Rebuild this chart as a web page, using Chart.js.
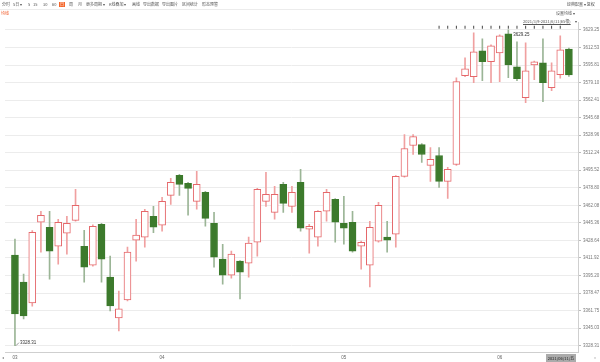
<!DOCTYPE html>
<html>
<head>
<meta charset="utf-8">
<script src="https://cdn.jsdelivr.net/npm/chart.js@4.4.1/dist/chart.umd.min.js"></script>
<style>
  body { margin: 0; background: #fff; font-family: "Noto Sans CJK SC", sans-serif; }
  #wrap { position: relative; width: 600px; height: 362px; overflow: hidden; }
  #wrap canvas { position: absolute; left: 0; top: 0; }
  .t { position: absolute; font-size: 4px; line-height: 5px; color: #555; white-space: nowrap; }
  .on { background: #f4662b; color: #fff; padding: 0 1px; }
  .sep { position: absolute; left: 0; top: 9px; width: 600px; height: 1px; background: #ececec; }
</style>
</head>
<body>
<div id="wrap">
  <canvas id="kline"></canvas>
  <div class="sep"></div>
  <span class="t" style="left:2px;top:2px">分时</span>
  <span class="t" style="left:13px;top:2px">5日 ▾</span>
  <span class="t" style="left:28px;top:2px">5</span>
  <span class="t" style="left:33px;top:2px">15</span>
  <span class="t" style="left:43px;top:2px">30</span>
  <span class="t" style="left:52px;top:2px">60</span>
  <span class="t on" style="left:59px;top:2px">日</span>
  <span class="t" style="left:69px;top:2px">周</span>
  <span class="t" style="left:78px;top:2px">月</span>
  <span class="t" style="left:86px;top:2px">更多周期 ▾</span>
  <span class="t" style="left:109px;top:2px">K线叠加 ▾</span>
  <span class="t" style="left:132px;top:2px">画线</span>
  <span class="t" style="left:143px;top:2px">导出数据</span>
  <span class="t" style="left:162px;top:2px">导出图片</span>
  <span class="t" style="left:182px;top:2px">区间统计</span>
  <span class="t" style="left:202px;top:2px">形态预警</span>
  <span class="t" style="left:567px;top:2px">经典配置 ▾ 复权</span>
  <span class="t" style="left:1px;top:11px;color:#f05a28">均线</span>
  <span class="t" style="left:556px;top:11px">设置均线 ▾</span>
  <span class="t" style="left:523px;top:19px;text-decoration:underline">2021/3/9-2021/6/11(65根)</span>
  <span class="t" style="left:575px;top:19px">▾</span>
  <span class="t" style="left:2px;top:355px;color:#888">◂</span>
  <span class="t" style="left:594px;top:355px;color:#888">»</span>
  <span class="t" style="left:546px;top:354px;width:30px;height:8px;line-height:8px;text-align:center;background:#ababab;color:#222">2021/06/11/五</span>
</div>
<script>
// 上证指数 日K 2021/3/9 - 2021/6/11
const dates = [
  '2021/03/09','2021/03/10','2021/03/11','2021/03/12','2021/03/15','2021/03/16','2021/03/17','2021/03/18','2021/03/19',
  '2021/03/22','2021/03/23','2021/03/24','2021/03/25','2021/03/26','2021/03/29','2021/03/30','2021/03/31',
  '2021/04/01','2021/04/02','2021/04/06','2021/04/07','2021/04/08','2021/04/09','2021/04/12','2021/04/13','2021/04/14',
  '2021/04/15','2021/04/16','2021/04/19','2021/04/20','2021/04/21','2021/04/22','2021/04/23','2021/04/26','2021/04/27',
  '2021/04/28','2021/04/29','2021/04/30',
  '2021/05/06','2021/05/07','2021/05/10','2021/05/11','2021/05/12','2021/05/13','2021/05/14','2021/05/17','2021/05/18',
  '2021/05/19','2021/05/20','2021/05/21','2021/05/24','2021/05/25','2021/05/26','2021/05/27','2021/05/28','2021/05/31',
  '2021/06/01','2021/06/02','2021/06/03','2021/06/04','2021/06/07','2021/06/08','2021/06/09','2021/06/10','2021/06/11'
];
const open = [
  3414.6, 3388.9, 3369.0, 3445.9, 3441.2, 3423.1, 3435.5, 3447.8, 3423.1, 3405.1,
  3444.0, 3393.7, 3354.7, 3371.8, 3428.8, 3431.7, 3451.6, 3443.1, 3471.6, 3490.6,
  3483.0, 3465.9, 3474.4, 3445.0, 3410.8, 3395.6, 3408.9, 3407.0, 3426.9, 3465.9,
  3455.4, 3482.0, 3461.1, 3483.9, 3439.3, 3431.7, 3456.4, 3467.8, 3445.0, 3445.9,
  3423.1, 3405.1, 3427.9, 3431.7, 3434.5, 3489.6, 3519.1, 3520.0, 3500.1, 3509.6,
  3484.9, 3501.0, 3585.6, 3584.6, 3609.3, 3598.9, 3607.4, 3625.5, 3594.1, 3564.7,
  3596.0, 3597.9, 3574.2, 3586.5, 3611.1
];
const high = [
  3429.8, 3396.5, 3438.0, 3456.4, 3456.4, 3448.8, 3451.6, 3477.3, 3438.3, 3443.5,
  3445.0, 3413.6, 3380.4, 3422.2, 3448.8, 3458.3, 3461.0, 3469.7, 3487.7, 3491.5,
  3483.9, 3494.4, 3475.4, 3455.4, 3425.0, 3418.4, 3409.5, 3431.7, 3478.2, 3493.4,
  3480.1, 3483.9, 3480.1, 3496.3, 3444.0, 3457.0, 3477.3, 3468.5, 3470.6, 3456.4,
  3427.9, 3446.9, 3464.9, 3446.9, 3490.5, 3529.5, 3529.5, 3521.0, 3517.2, 3517.2,
  3498.2, 3583.7, 3602.7, 3626.4, 3620.7, 3615.0, 3624.5, 3629.25, 3617.9, 3616.9,
  3599.5, 3620.7, 3597.9, 3623.6, 3612.0
];
const low = [
  3328.31, 3353.8, 3366.0, 3417.4, 3391.8, 3406.0, 3415.5, 3446.9, 3388.9, 3404.0,
  3388.9, 3361.4, 3342.4, 3371.0, 3408.9, 3422.2, 3436.0, 3437.4, 3463.0, 3471.6,
  3452.6, 3458.3, 3442.1, 3403.2, 3387.0, 3392.7, 3372.8, 3393.7, 3413.6, 3461.1,
  3448.8, 3455.4, 3455.4, 3437.4, 3416.5, 3423.1, 3446.9, 3426.9, 3425.0, 3417.4,
  3401.3, 3384.2, 3427.0, 3417.4, 3422.2, 3489.0, 3510.5, 3502.9, 3484.9, 3479.2,
  3468.7, 3500.0, 3584.6, 3578.9, 3580.8, 3578.9, 3579.9, 3583.7, 3580.8, 3559.9,
  3581.8, 3560.9, 3571.3, 3583.2, 3585.0
];
const close = [
  3358.5, 3356.6, 3436.4, 3452.6, 3418.4, 3445.9, 3445.0, 3462.0, 3403.2, 3442.1,
  3410.8, 3366.1, 3363.3, 3417.4, 3433.6, 3456.4, 3441.2, 3465.9, 3483.9, 3482.0,
  3478.2, 3482.0, 3449.7, 3412.7, 3395.6, 3415.5, 3398.4, 3426.0, 3477.3, 3472.5,
  3472.5, 3464.0, 3474.4, 3440.2, 3442.1, 3456.4, 3474.4, 3445.9, 3440.2, 3418.4,
  3426.9, 3441.2, 3462.0, 3428.8, 3489.6, 3516.2, 3527.6, 3510.5, 3505.8, 3484.9,
  3496.3, 3579.9, 3592.2, 3608.4, 3598.9, 3614.1, 3623.6, 3596.0, 3582.7, 3590.3,
  3598.9, 3578.9, 3590.3, 3610.3, 3586.3
];
// y axis tick labels (right side), bottom to top
const yTicks = [
  3328.31, 3345.03, 3361.75, 3378.47, 3395.20, 3411.92, 3428.64, 3445.36, 3462.08, 3478.80,
  3495.52, 3512.24, 3528.96, 3545.68, 3562.41, 3579.10, 3595.81, 3612.53, 3629.25
];
// small event markers above the candles
const markerIdx = [49, 50, 51, 52, 53, 54, 55, 56, 57, 58, 59, 60, 61, 62, 63];
const markerLevel = 3631.8;

const RED = '#e5676a', RED_WICK = '#f0a0a0';
const GREEN = '#3c7a2c', GREEN_WICK = '#9bb596';
const isUp = i => close[i] >= open[i];

// month start ticks on x axis
const monthStarts = dates.map((d, i) => i).filter(i => i === 0 || dates[i].slice(5, 7) !== dates[i - 1].slice(5, 7));

const extremeLabels = {
  id: 'extremeLabels',
  afterDatasetsDraw(chart) {
    const { ctx, scales: { x, y } } = chart;
    const hi = high.indexOf(Math.max(...high));
    const lo = low.indexOf(Math.min(...low));
    ctx.save();
    ctx.font = '4.5px "Liberation Sans", sans-serif';
    ctx.fillStyle = '#333';
    ctx.strokeStyle = '#555';
    ctx.lineWidth = 0.6;
    ctx.textBaseline = 'middle';
    let px = x.getPixelForValue(hi), py = y.getPixelForValue(high[hi]);
    ctx.fillText(high[hi].toFixed(2), px + 5, py + 5);
    px = x.getPixelForValue(lo); py = y.getPixelForValue(low[lo]);
    ctx.beginPath();
    ctx.moveTo(px + 1, py);
    ctx.lineTo(px + 4, py - 3);
    ctx.stroke();
    ctx.fillText(low[lo].toFixed(2), px + 5, py - 3);
    ctx.restore();
  }
};

new Chart(document.getElementById('kline'), {
  type: 'bar',
  data: {
    datasets: [
      {
        label: 'body',
        data: dates.map((d, i) => ({ x: i, y: [open[i], close[i]] })),
        backgroundColor: dates.map((d, i) => isUp(i) ? '#fff' : GREEN),
        borderColor: dates.map((d, i) => isUp(i) ? RED : GREEN),
        borderWidth: 1,
        borderSkipped: false,
        barThickness: 7,
        grouped: false,
        order: 1
      },
      {
        label: 'wick',
        data: dates.map((d, i) => ({ x: i, y: [low[i], high[i]] })),
        backgroundColor: dates.map((d, i) => isUp(i) ? RED_WICK : GREEN_WICK),
        borderWidth: 0,
        barThickness: 1,
        grouped: false,
        order: 2
      },
      {
        type: 'scatter',
        label: 'marks',
        data: markerIdx.map(i => ({ x: i, y: markerLevel })),
        pointStyle: 'line',
        rotation: 90,
        radius: 1.5,
        borderColor: '#444',
        borderWidth: 1,
        order: 0
      }
    ]
  },
  options: {
    responsive: true,
    maintainAspectRatio: false,
    animation: false,
    layout: { padding: { top: 22, left: 0, right: 0, bottom: 0 } },
    plugins: { legend: { display: false }, tooltip: { enabled: false } },
    scales: {
      x: {
        type: 'linear',
        offset: false,
        min: -1.15,
        max: 65.05,
        grid: { display: false, drawTicks: false },
        border: { display: true, color: '#cfcfcf' },
        afterBuildTicks: s => { s.ticks = monthStarts.map(v => ({ value: v })); },
        ticks: {
          autoSkip: false,
          maxRotation: 0,
          padding: 2,
          color: '#666',
          font: { size: 4.5 },
          callback: v => dates[v] ? dates[v].slice(5, 7) : ''
        }
      },
      y: {
        position: 'right',
        min: 3321.7,
        max: 3636.8,
        grid: { color: '#ececec', tickLength: 3, tickColor: '#bbb' },
        border: { display: true, color: '#cfcfcf' },
        afterBuildTicks: s => { s.ticks = yTicks.map(v => ({ value: v })); },
        afterFit: s => { s.width = 22; },
        ticks: {
          autoSkip: false,
          padding: 2,
          color: '#777',
          font: { size: 4.5 },
          callback: (v, i) => yTicks[i].toFixed(2)
        }
      }
    }
  },
  plugins: [extremeLabels]
});
</script>
</body>
</html>
